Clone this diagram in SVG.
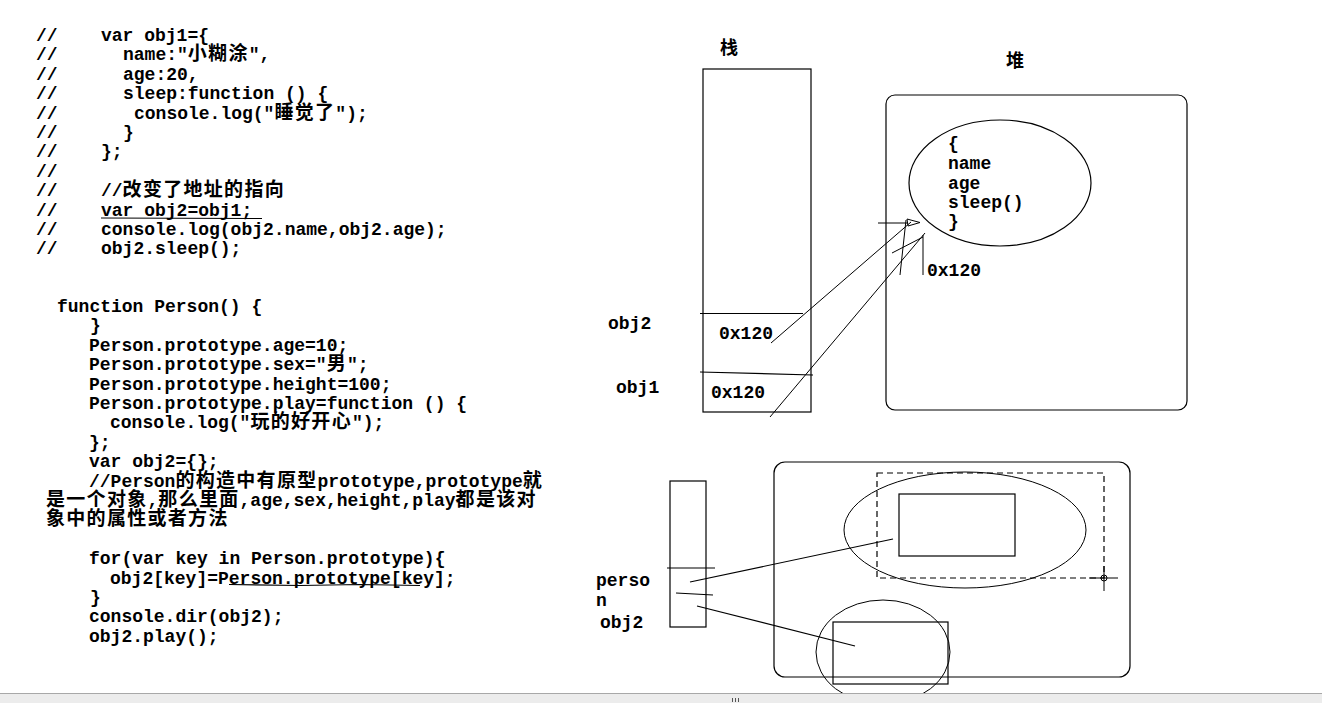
<svg xmlns="http://www.w3.org/2000/svg" width="1322" height="703" viewBox="0 0 1322 703">
<style>
.code{font-family:"Liberation Mono","Noto Sans CJK SC",monospace;font-size:18px;font-weight:bold;fill:#000}
.c{font-family:"Noto Sans CJK SC",sans-serif;font-size:19px;letter-spacing:1.3px;font-weight:bold}
.lbl{font-family:"Noto Sans CJK SC",sans-serif;font-size:18px;font-weight:bold;fill:#000}
.ln{fill:none;stroke:#000;stroke-width:1.2}
.thin{fill:none;stroke:#000;stroke-width:1}
.dash{fill:none;stroke:#000;stroke-width:1.2;stroke-dasharray:6,4}
</style>
<rect x="0" y="0" width="1322" height="703" fill="#fff"/>

<g id="code-top" class="code">
<text x="36" y="41">//</text><text x="101" y="41">var obj1={</text>
<text x="36" y="60.4">//</text><text x="123" y="60.4">name:"<tspan class="c">小糊涂</tspan>",</text>
<text x="36" y="79.8">//</text><text x="123" y="79.8">age:20,</text>
<text x="36" y="99.2">//</text><text x="123" y="99.2">sleep:function () {</text>
<text x="36" y="118.6">//</text><text x="134" y="118.6">console.log("<tspan class="c">睡觉了</tspan>");</text>
<text x="36" y="138">//</text><text x="123" y="138">}</text>
<text x="36" y="157.4">//</text><text x="101" y="157.4">};</text>
<text x="36" y="176.8">//</text>
<text x="36" y="196.2">//</text><text x="101" y="196.2">//<tspan class="c">改变了地址的指向</tspan></text>
<text x="36" y="215.6">//</text><text x="101" y="215.6">var obj2=obj1;</text>
<text x="36" y="235">//</text><text x="101" y="235">console.log(obj2.name,obj2.age);</text>
<text x="36" y="254.4">//</text><text x="101" y="254.4">obj2.sleep();</text>
<line class="ln" x1="101" y1="218" x2="262" y2="218.5"/>
</g>

<g id="code-bottom" class="code">
<text x="57" y="312">function Person() {</text>
<text x="90" y="331.4">}</text>
<text x="89" y="350.8">Person.prototype.age=10;</text>
<text x="89" y="370.2">Person.prototype.sex="<tspan class="c">男</tspan>";</text>
<text x="89" y="389.6">Person.prototype.height=100;</text>
<text x="89" y="409">Person.prototype.play=function () {</text>
<text x="110" y="428.4">console.log("<tspan class="c">玩的好开心</tspan>");</text>
<text x="89" y="447.8">};</text>
<text x="89" y="467.2">var obj2={};</text>
<text x="89" y="486.6">//Person<tspan class="c">的构造中有原型</tspan>prototype,prototype<tspan class="c">就</tspan></text>
<text x="46" y="506"><tspan class="c">是一个对象</tspan>,<tspan class="c">那么里面</tspan>,age,sex,height,play<tspan class="c">都是该对</tspan></text>
<text x="46" y="525.4"><tspan class="c">象中的属性或者方法</tspan></text>
<text x="89" y="564.2">for(var key in Person.prototype){</text>
<text x="110" y="583.6">obj2[key]=Person.prototype[key];</text>
<text x="90" y="603">}</text>
<text x="89" y="622.4">console.dir(obj2);</text>
<text x="89" y="641.8">obj2.play();</text>
<polyline class="ln" points="229,584.5 300,585.5 360,584.5 420,585.5"/>
</g>

<g id="stack">
<text class="lbl" x="720" y="54">栈</text>
<rect class="ln" x="703" y="69" width="108" height="343"/>
<line class="ln" x1="700" y1="313.5" x2="803" y2="313.5"/>
<line class="ln" x1="700" y1="372" x2="813" y2="375"/>
</g>

<g id="obj2-slot" class="code">
<text x="608" y="329">obj2</text>
<text x="719" y="339">0x120</text>
</g>
<g id="obj1-slot" class="code">
<text x="616" y="393">obj1</text>
<text x="711" y="398">0x120</text>
</g>

<g id="heap">
<text class="lbl" x="1006" y="67">堆</text>
<rect class="ln" x="886" y="95" width="301" height="315" rx="9"/>
</g>

<g id="heap-object">
<ellipse class="ln" cx="1000" cy="183" rx="91" ry="63"/>
<g class="code">
<text x="948" y="149">{</text>
<text x="948" y="169">name</text>
<text x="948" y="189">age</text>
<text x="948" y="208">sleep()</text>
<text x="948" y="227">}</text>
<text x="927" y="276">0x120</text>
</g>
<line class="thin" x1="923" y1="235" x2="923" y2="275"/>
</g>

<g id="connectors">
<line class="thin" x1="771" y1="343" x2="911" y2="222"/>
<line class="thin" x1="770" y1="417" x2="925" y2="233"/>
<line class="thin" x1="878" y1="223" x2="908" y2="223"/>
<polygon class="thin" points="907,219 920,222.5 908,226"/>
<line class="thin" x1="906" y1="220" x2="900" y2="275"/>
<line class="thin" x1="892" y1="253" x2="923" y2="237"/>
<line class="ln" x1="690" y1="582" x2="893" y2="539"/>
<line class="ln" x1="697" y1="606" x2="855" y2="646"/>
</g>

<g id="stack2">
<rect class="ln" x="670" y="481" width="36" height="146"/>
<line class="ln" x1="667" y1="568" x2="715" y2="568"/>
<line class="ln" x1="676" y1="593" x2="713" y2="595"/>
<g class="code">
<text x="596" y="586">perso</text>
<text x="596" y="606">n</text>
<text x="600" y="628">obj2</text>
</g>
</g>

<g id="heap2">
<rect class="ln" x="774" y="462" width="356" height="215" rx="11"/>
</g>

<g id="prototype-object">
<rect class="dash" x="877" y="473" width="227" height="105"/>
<ellipse class="thin" cx="965" cy="530" rx="121" ry="58"/>
<rect class="ln" x="899" y="494" width="116" height="62"/>
<circle class="thin" cx="1104" cy="578" r="3"/>
<line class="thin" x1="1089" y1="578" x2="1118" y2="578"/>
<line class="thin" x1="1104" y1="566" x2="1104" y2="591"/>
</g>

<g id="obj2-object">
<ellipse class="thin" cx="883" cy="652" rx="67" ry="52"/>
<rect class="ln" x="833" y="622" width="115" height="62"/>
</g>

<g id="statusbar">
<rect x="0" y="693" width="1322" height="10" fill="#ececec"/>
<line x1="0" y1="693.5" x2="1322" y2="693.5" stroke="#a8a8a8" stroke-width="1"/>
<line x1="732.5" y1="698" x2="732.5" y2="702" stroke="#555" stroke-width="1"/>
<line x1="735.5" y1="698" x2="735.5" y2="702" stroke="#555" stroke-width="1"/>
<line x1="738.5" y1="698" x2="738.5" y2="702" stroke="#555" stroke-width="1"/>
</g>
</svg>
